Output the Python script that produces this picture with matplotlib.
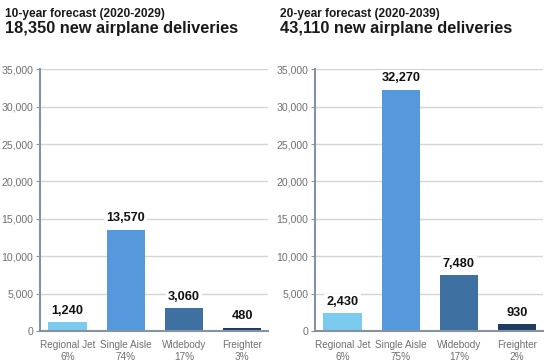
import matplotlib.pyplot as plt
import numpy as np

plt.rcParams['font.family'] = ['Liberation Sans', 'DejaVu Sans']

categories = ['Regional Jet', 'Single Aisle', 'Widebody', 'Freighter']
colors = ['#7ccbee', '#5599dc', '#3f70a2', '#1f3d63']

# 10-year forecast
titles_10 = ('10-year forecast (2020-2029)', '18,350 new airplane deliveries')
values_10 = [1240, 13570, 3060, 480]
shares_10 = ['6%', '74%', '17%', '3%']

# 20-year forecast
titles_20 = ('20-year forecast (2020-2039)', '43,110 new airplane deliveries')
values_20 = [2430, 32270, 7480, 930]
shares_20 = ['6%', '75%', '17%', '2%']

yticks = [0, 5000, 10000, 15000, 20000, 25000, 30000, 35000]

fig = plt.figure(figsize=(5.5, 3.64), dpi=100)

panels = [
    (0.073, titles_10, values_10, shares_10, 0.009),
    (0.573, titles_20, values_20, shares_20, 0.509),
]

for left, titles, values, shares, tx in panels:
    ax = fig.add_axes([left, 0.09, 0.415, 0.72])
    x = np.arange(len(categories))
    ax.bar(x, values, width=0.66, color=colors, zorder=2)
    ax.set_xlim(-0.47, 3.45)
    ax.set_ylim(0, 35000)
    ax.set_yticks(yticks)
    ax.set_yticklabels([f'{v:,}' for v in yticks], color='#707070', fontsize=7.6)
    ax.tick_params(axis='y', length=3, color='#8a96a3', pad=2)
    ax.set_xticks(x)
    ax.set_xticklabels([f'{c}\n{s}' for c, s in zip(categories, shares)],
                       color='#707070', fontsize=7.2, linespacing=1.25)
    ax.tick_params(axis='x', length=0, pad=6)
    ax.grid(axis='y', color='#d5d5d5', linewidth=1, zorder=0)
    ax.set_axisbelow(True)
    for s in ['top', 'right']:
        ax.spines[s].set_visible(False)
    for s in ['left', 'bottom']:
        ax.spines[s].set_color('#8592a0')
        ax.spines[s].set_linewidth(1.5)
    for xi, v in zip(x, values):
        ax.text(xi, v + 700, f'{v:,}', ha='center', va='bottom', fontsize=9.2,
                fontweight='bold', color='#111111', zorder=3,
                bbox=dict(facecolor='white', edgecolor='none', pad=1.5))
    fig.text(tx, 0.953, titles[0], fontsize=8.6, fontweight='bold', color='#1a1a1a')
    fig.text(tx, 0.909, titles[1], fontsize=11.8, fontweight='bold', color='#1a1a1a')

fig.savefig('out.png', dpi=100)
